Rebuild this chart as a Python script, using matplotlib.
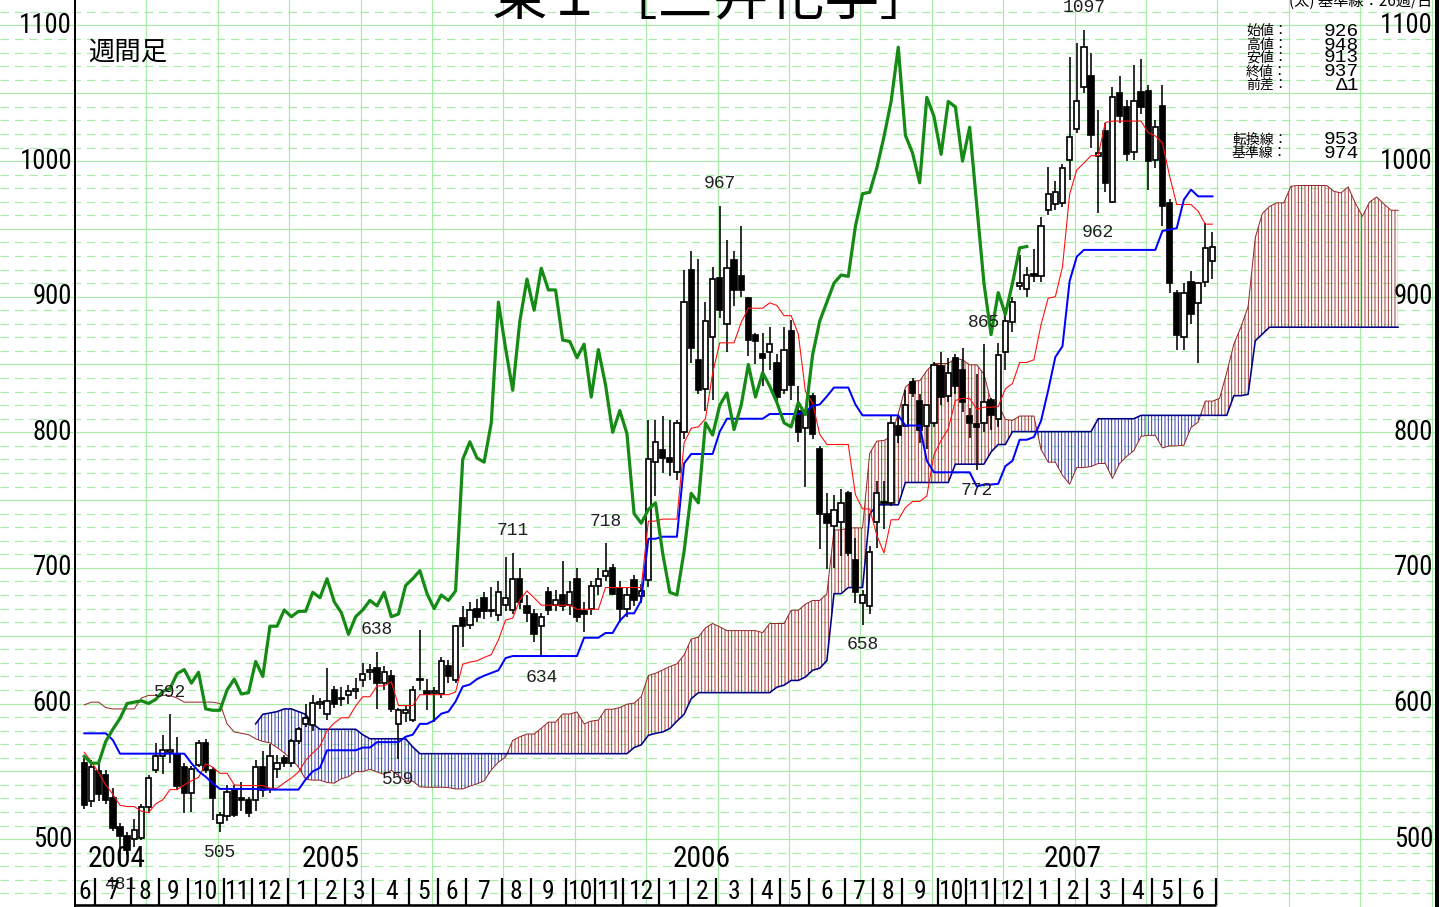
import datetime as dt
import numpy as np
import matplotlib
matplotlib.use("Agg")
import matplotlib.pyplot as plt
from matplotlib import font_manager
from matplotlib.font_manager import FontProperties
from matplotlib.textpath import TextPath

# ---------------- data (weekly) ----------------
opens = [556, 528, 550, 547, 530, 509, 502, 500, 501, 524, 551, 561, 564, 563, 553, 534, 555, 571, 551, 512,
         517, 536, 530, 529, 529, 553, 537, 552, 560, 556, 572, 585, 584, 600, 592, 610, 604, 606, 609, 617,
         623, 626, 615, 620, 585, 593, 588, 617, 609, 608, 607, 628, 617, 663, 658, 670, 678, 668, 665, 673,
         669, 692, 672, 666, 657, 682, 673, 680, 673, 692, 668, 670, 687, 694, 700, 685, 670, 691, 679, 691,
         778, 787, 781, 771, 800, 920, 853, 832, 870, 914, 880, 927, 915, 899, 872, 858, 859, 851, 831, 875,
         816, 803, 827, 788, 740, 731, 734, 755, 706, 674, 672, 734, 748, 748, 805, 805, 837, 823, 805, 807,
         849, 827, 855, 846, 812, 806, 807, 824, 810, 859, 881, 908, 906, 917, 915, 964, 968, 969, 1001, 1024,
         1055, 1063, 1004, 1022, 970, 1050, 1040, 1007, 1051, 1052, 1001, 1041, 969, 903, 870, 911, 895, 911, 926]
highs = [560, 558, 556, 551, 538, 512, 505, 515, 526, 547, 571, 577, 592, 575, 556, 554, 573, 574, 553, 520,
         540, 540, 542, 531, 558, 565, 570, 562, 562, 574, 583, 600, 606, 604, 626, 613, 612, 614, 619, 630,
         629, 638, 628, 625, 597, 598, 613, 654, 618, 612, 634, 632, 658, 672, 675, 677, 682, 686, 690, 708,
         711, 700, 680, 670, 667, 686, 684, 705, 690, 700, 675, 690, 700, 718, 703, 690, 685, 695, 688, 809,
         809, 812, 809, 809, 920, 934, 928, 896, 922, 967, 942, 934, 952, 900, 873, 873, 878, 858, 878, 883,
         834, 816, 829, 790, 755, 754, 758, 757, 722, 684, 716, 764, 764, 813, 812, 831, 840, 828, 818, 852,
         859, 855, 858, 862, 818, 843, 865, 825, 866, 892, 900, 931, 922, 935, 959, 996, 985, 998, 1077, 1087,
         1097, 1080, 1038, 1028, 1055, 1063, 1045, 1071, 1075, 1056, 1030, 1056, 972, 905, 910, 919, 910, 954, 948]
lows = [522, 524, 528, 526, 506, 481, 488, 494, 499, 519, 549, 548, 556, 536, 519, 520, 553, 549, 514, 505,
        513, 516, 521, 516, 521, 531, 534, 545, 553, 553, 570, 583, 580, 596, 588, 597, 598, 600, 603, 612,
        617, 596, 610, 594, 559, 586, 586, 610, 595, 586, 604, 615, 615, 642, 655, 660, 662, 664, 661, 668,
        666, 670, 660, 645, 634, 665, 668, 668, 665, 660, 653, 665, 680, 690, 680, 660, 664, 672, 674, 686,
        753, 770, 768, 765, 795, 851, 828, 816, 824, 884, 859, 893, 900, 856, 850, 834, 846, 820, 828, 824,
        793, 760, 795, 714, 699, 700, 709, 709, 674, 658, 666, 715, 729, 746, 792, 805, 826, 792, 788, 804,
        820, 822, 828, 815, 796, 772, 800, 802, 804, 846, 874, 905, 900, 911, 911, 960, 964, 966, 986, 1021,
        1050, 1010, 962, 977, 969, 1028, 1000, 1001, 1035, 979, 995, 952, 903, 861, 861, 880, 851, 907, 913]
closes = [525, 553, 533, 529, 508, 502, 492, 507, 524, 545, 561, 566, 566, 539, 534, 552, 571, 551, 530, 518,
          535, 518, 529, 519, 553, 536, 561, 556, 556, 572, 581, 589, 600, 601, 602, 600, 603, 609, 611, 622,
          625, 615, 623, 596, 595, 595, 610, 618, 607, 608, 631, 620, 657, 657, 669, 664, 668, 668, 682, 678,
          692, 675, 667, 651, 664, 669, 676, 672, 682, 664, 666, 687, 692, 698, 681, 670, 680, 676, 683, 780,
          793, 781, 778, 807, 896, 862, 831, 882, 913, 890, 921, 905, 905, 868, 867, 855, 865, 826, 861, 835,
          800, 816, 799, 740, 733, 743, 748, 711, 682, 680, 712, 755, 748, 807, 798, 820, 829, 802, 820, 850,
          826, 844, 834, 822, 807, 804, 822, 813, 857, 882, 896, 910, 916, 915, 952, 976, 977, 995, 1018, 1044,
          1084, 1019, 1006, 984, 1047, 1033, 1005, 1044, 1040, 1000, 1025, 967, 910, 872, 903, 887, 910, 936, 937]

# indicator values before the window can be formed from the visible weeks
tenkan_lead = [564, 557, 549, 540, 533, 525, 524, 524]
kijun_lead = [578, 578, 578, 578, 573, 563, 563, 563, 563, 563, 563, 563, 563, 563, 563, 556, 550, 546, 541,
              537, 537, 537, 537, 537, 537]
spanA_lead = [599, 601, 601, 597, 596, 596, 596, 596, 604, 606, 606, 606, 606, 604, 601, 601, 601, 601, 601,
              600, 585, 579, 578, 577, 574, 572]
spanB_lead = [585, 592, 593, 594, 596, 596, 594, 592, 585, 581, 581, 581, 581, 581, 581, 577, 574, 574, 574,
              574, 574, 574, 568] + [563] * 30   # weeks 24..76

first_week_friday = dt.date(2004, 6, 18)
y_tick_values = [500, 600, 700, 800, 900, 1000, 1100]
high_label_weeks = [12, 41, 60, 73, 89, 126, 140]
low_label_weeks = [5, 19, 44, 64, 109, 125, 142]
info_names = ["始値：", "高値：", "安値：", "終値：", "前差："]
info_values = ["926", "948", "913", "937", "Δ1"]
line_names = ["転換線：", "基準線："]
line_values = ["953", "974"]
title_text = "東１［三井化学］"
period_text = "週間足"
corner_text = "(太) 基準線：26週/日"

# ---------------- derived Ichimoku lines ----------------
H = np.array(highs, float)
L = np.array(lows, float)
O = np.array(opens, float)
C = np.array(closes, float)
n = len(C)

tenkan = np.array([tenkan_lead[i] if i < 8 else (H[i-8:i+1].max() + L[i-8:i+1].min()) / 2 for i in range(n)])
kijun = np.array([kijun_lead[i] if i < 25 else (H[i-25:i+1].max() + L[i-25:i+1].min()) / 2 for i in range(n)])
jj = np.arange(n + 26)
spanA = np.array([spanA_lead[j] if j < 26 else (tenkan[j-26] + kijun[j-26]) / 2 for j in jj])
spanB = np.full(len(jj), np.nan)
for j in jj:
    if 24 <= j < 77:
        spanB[j] = spanB_lead[j - 24]
    elif j >= 77:
        k = j - 26
        spanB[j] = (H[k-51:k+1].max() + L[k-51:k+1].min()) / 2

# ---------------- fonts ----------------
entries = font_manager.fontManager.ttflist
names = {f.name for f in entries}
narrow_fp = None
for nm in ["Liberation Sans Narrow", "Roboto Condensed", "Open Sans Condensed", "Noto Sans Condensed",
           "DejaVu Sans Condensed"]:
    if nm in names:
        narrow_fp = FontProperties(family=nm)
        break
if narrow_fp is None:
    cond = [f for f in entries if f.name == "DejaVu Sans" and str(f.stretch) in ("condensed", "semi-condensed")]
    if cond:
        narrow_fp = FontProperties(family="DejaVu Sans", stretch="condensed")
    elif "Liberation Sans" in names:
        narrow_fp = FontProperties(family="Liberation Sans")
    else:
        narrow_fp = FontProperties(family="DejaVu Sans")

tp = TextPath((0, 0), "0000", size=100, prop=narrow_fp)
digit_ratio = tp.get_extents().width / 400.0 + 0.06   # advance per digit, in em


def narrow_size(px_per_digit):
    return px_per_digit / digit_ratio * 0.72


CJK = ["Noto Sans CJK JP", "DejaVu Sans"]
MONO = ["Liberation Mono", "DejaVu Sans Mono"]

# ---------------- figure / pixel helpers ----------------
W, HH = 1448, 907
fig = plt.figure(figsize=(W / 100, HH / 100), dpi=100)
ax = fig.add_axes([0, 0, 1, 1])


def wx(px):
    return (px - 84.3) / 7.14


def vy(py):
    return 600 + (703.5 - py) / 1.356


PT = 0.72  # points per pixel
ax.set_xlim(wx(0), wx(W))
ax.set_ylim(vy(HH), vy(0))
ax.axis("off")

GREEN = "#a8eca8"
for v in range(460, 1120, 10):
    if v % 50 == 0:
        ax.plot([wx(0), wx(1435)], [v, v], color=GREEN, lw=1.2 * PT, zorder=0)
    else:
        ax.plot([wx(0), wx(1435)], [v, v], color=GREEN, lw=1.2 * PT, ls=(0, (7, 5)), zorder=0)
for k in range(1, 20):
    xg = wx(75) + 10 * k
    if xg < wx(1435):
        ax.plot([xg, xg], [vy(HH), vy(0)], color=GREEN, lw=1.2 * PT, zorder=0)

# ---------------- cloud ----------------
plt.rcParams["hatch.linewidth"] = 0.9 * PT
valid = ~np.isnan(spanB)
xs = jj[valid]
a = spanA[valid]
b = spanB[valid]
ax.fill_between(xs, a, b, where=a >= b, interpolate=True, facecolor="none",
                edgecolor="#a02828", hatch="|||||", linewidth=0, zorder=1)
ax.fill_between(xs, a, b, where=b > a, interpolate=True, facecolor="none",
                edgecolor="#2a2aa0", hatch="|||||", linewidth=0, zorder=1)
ax.plot(jj, spanA, color="#962828", lw=1.0 * PT, zorder=2)
ax.plot(jj, spanB, color="#000088", lw=1.6 * PT, zorder=2)

# ---------------- candles ----------------
x = np.arange(n)
ax.vlines(x, L, H, color="black", lw=1.6 * PT, zorder=3)
up = C >= O
bottoms = np.minimum(O, C)
heights = np.maximum(np.abs(C - O), 0.9)
ax.bar(x[up], heights[up], bottom=bottoms[up], width=0.74, color="white", edgecolor="black",
       linewidth=1.7 * PT, zorder=4)
ax.bar(x[~up], heights[~up], bottom=bottoms[~up], width=0.74, color="black", edgecolor="black",
       linewidth=1.7 * PT, zorder=4)

# ---------------- lines ----------------
ax.plot(x, tenkan, color="#ff1010", lw=1.1 * PT, zorder=5)
ax.plot(x, kijun, color="#0000ff", lw=2.0 * PT, zorder=5)
ax.plot(np.arange(n - 26), C[26:], color="#158a15", lw=3.2 * PT, zorder=6)

# ---------------- extreme labels ----------------
for w in high_label_weeks:
    ax.text(w, H[w] + 22 / 1.356, str(int(H[w])), ha="center", va="center", fontsize=13,
            family=MONO, color="#202020", zorder=7)
for w in low_label_weeks:
    ax.text(w, L[w] - 20 / 1.356, str(int(L[w])), ha="center", va="center", fontsize=13,
            family=MONO, color="#202020", zorder=7)

# ---------------- frame ----------------
ax.plot([wx(74.5)] * 2, [vy(HH), vy(0)], color="black", lw=2 * PT, zorder=8)
ax.plot([wx(1437)] * 2, [vy(HH), vy(0)], color="black", lw=4 * PT, zorder=8)
ax.plot([wx(74.5), n - 0.5], [vy(905)] * 2, color="black", lw=2.6 * PT, zorder=8, solid_capstyle="butt")

dates = [first_week_friday + dt.timedelta(days=7 * i) for i in range(n)]
seps = [wx(74.5)]
months = [dates[0].month]
for i in range(1, n):
    if dates[i].month != dates[i - 1].month:
        seps.append(i - 0.5)
        months.append(dates[i].month)
seps.append(n - 0.5)
ax.vlines(seps[1:], vy(905), vy(878), color="black", lw=2.2 * PT, zorder=8)
month_fs = narrow_size(13.5)
for k, m in enumerate(months):
    xc = (seps[k] + seps[k + 1]) / 2
    ax.text(xc, vy(892), str(m), ha="center", va="center", fontproperties=narrow_fp,
            fontsize=month_fs, zorder=8)
year_fs = narrow_size(15.5)
for i in range(n):
    if i == 0 or (dates[i].year != dates[i - 1].year):
        xs0 = seps[0] if i == 0 else i - 0.5
        ax.text(xs0 + 1.9, vy(859), str(dates[i].year), ha="left", va="center",
                fontproperties=narrow_fp, fontsize=year_fs, zorder=8)

tick_fs = narrow_size(14)
for v in y_tick_values:
    ax.text(wx(72), v, str(v), ha="right", va="center", fontproperties=narrow_fp, fontsize=tick_fs, zorder=8)
    ax.text(wx(1433), v, str(v), ha="right", va="center", fontproperties=narrow_fp, fontsize=tick_fs, zorder=8)

# ---------------- texts ----------------
fig.text(714 / W, 1 - 14 / HH, title_text, ha="center", va="baseline", fontsize=40, family=CJK)
fig.text(88 / W, 1 - 52 / HH, period_text, ha="left", va="center", fontsize=19, family=CJK)
fig.text(1432 / W, 1 - 1 / HH, corner_text, ha="right", va="center", fontsize=11, family=CJK)

rows = [31, 45, 58, 72, 86]
for nm, val, py in zip(info_names, info_values, rows):
    fig.text(1246 / W, 1 - py / HH, nm, ha="left", va="center", fontsize=10, family=CJK)
    fig.text(1359 / W, 1 - py / HH, val, ha="right", va="center", fontsize=14, family=MONO)
for nm, val, py in zip(line_names, line_values, [140, 153]):
    fig.text(1232 / W, 1 - py / HH, nm, ha="left", va="center", fontsize=10, family=CJK)
    fig.text(1359 / W, 1 - py / HH, val, ha="right", va="center", fontsize=14, family=MONO)

fig.savefig("out.png", dpi=100, facecolor="white")
